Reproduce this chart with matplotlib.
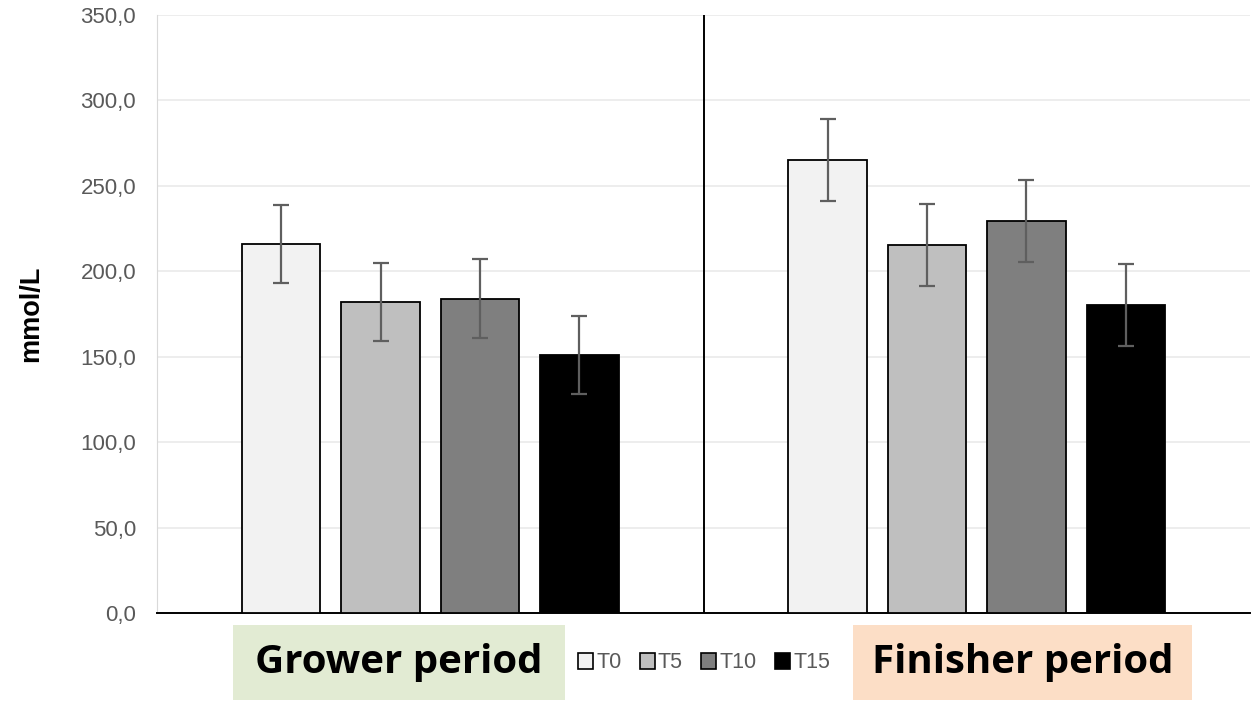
import numpy as np
import matplotlib.pyplot as plt
from matplotlib.patches import Patch, Rectangle
from matplotlib.ticker import FuncFormatter

periods = ["Grower period", "Finisher period"]
treatments = ["T0", "T5", "T10", "T15"]
means = {
    "T0": [216.0, 265.0],
    "T5": [182.0, 215.5],
    "T10": [184.0, 229.5],
    "T15": [151.0, 180.5],
}
errors = {
    "T0": [23.0, 24.0],
    "T5": [23.0, 24.0],
    "T10": [23.0, 24.0],
    "T15": [23.0, 24.0],
}
colors = ["#f2f2f2", "#bfbfbf", "#7f7f7f", "#000000"]
period_bg = ["#e2ebd3", "#fcdec6"]

plt.rcParams["font.family"] = ["Liberation Sans", "DejaVu Sans"]

W, H = 1255, 701
fig = plt.figure(figsize=(W / 100, H / 100), dpi=100)
ax = fig.add_axes([157 / W, 1 - 613 / H, 1093 / W, 598 / H])

centers = np.array([0.5, 1.5])
step = 0.182
width = 0.143
for i, t in enumerate(treatments):
    x = centers + (i - 1.5) * step
    ax.bar(x, means[t], width=width, color=colors[i], edgecolor="black",
           linewidth=1.3, zorder=3)
    ax.errorbar(x, means[t], yerr=errors[t], fmt="none", ecolor="#5f5f5f",
                elinewidth=1.6, capsize=6, capthick=1.6, zorder=4)

# divider between the two periods
ax.axvline(1.0, color="black", linewidth=1.4, zorder=2)

ax.set_xlim(0, 2)
ax.set_ylim(0, 350)
ax.set_yticks(np.arange(0, 351, 50))
ax.yaxis.set_major_formatter(FuncFormatter(lambda v, p: f"{v:.1f}".replace(".", ",")))
ax.set_xticks([])
ax.grid(axis="y", color="#eaeaea", linewidth=1.2, zorder=0)
ax.tick_params(axis="y", length=0, labelsize=16, labelcolor="#595959", pad=15)
for s in ["top", "right"]:
    ax.spines[s].set_visible(False)
ax.spines["left"].set_color("#d9d9d9")
ax.spines["bottom"].set_color("black")
ax.spines["bottom"].set_linewidth(1.4)
ax.set_ylabel("mmol/L", fontsize=19.5, fontweight="bold", labelpad=26)

# period labels under the axis
boxes = [(233, 565), (853, 1192)]
for name, bg, (x0, x1) in zip(periods, period_bg, boxes):
    fig.patches.append(Rectangle((x0 / W, 1 - 700 / H), (x1 - x0) / W, 75 / H,
                                 transform=fig.transFigure, facecolor=bg,
                                 edgecolor="none"))
    fig.text((x0 + x1) / 2 / W, 1 - 662 / H, name, ha="center", va="center",
             fontsize=29, fontweight="bold", family=["Open Sans", "DejaVu Sans"])

handles = [Patch(facecolor=c, edgecolor="black", linewidth=1.2) for c in colors]
leg = fig.legend(handles, treatments, loc="center", ncol=4, frameon=False,
                 bbox_to_anchor=(704 / W, 1 - 663 / H), fontsize=15.5,
                 handlelength=0.7, handleheight=0.7, handletextpad=0.15,
                 columnspacing=0.85)
for txt in leg.get_texts():
    txt.set_color("#595959")

fig.savefig("out.png", dpi=100)
